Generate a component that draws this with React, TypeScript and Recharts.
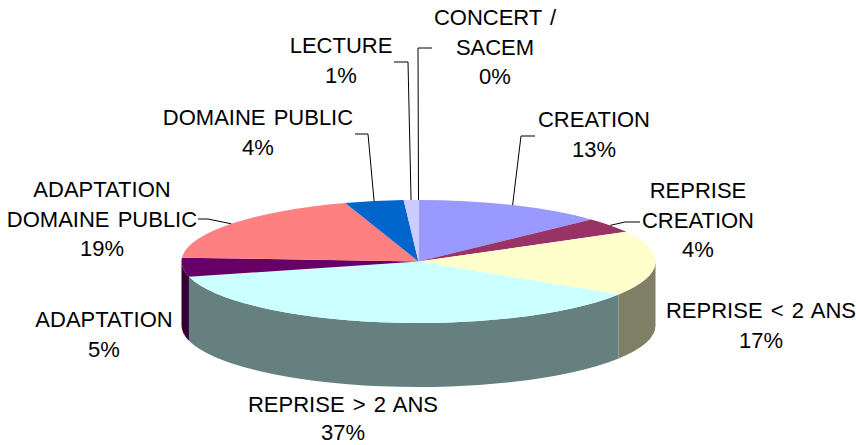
import React from 'react';
import { PieChart, Pie } from 'recharts';

const categories = ['CREATION', 'REPRISE CREATION', 'REPRISE < 2 ANS', 'REPRISE > 2 ANS', 'ADAPTATION', 'ADAPTATION DOMAINE PUBLIC', 'DOMAINE PUBLIC', 'LECTURE', 'CONCERT / SACEM'];
const shares = [13, 4, 17, 37, 5, 19, 4, 1, 0];
const topColors = ['#9999ff', '#993366', '#ffffcc', '#ccffff', '#660066', '#ff8080', '#0066cc', '#ccccff', '#000080'];
const wallColors = ['#4c4c80', '#4c1933', '#7f7f66', '#668080', '#330033', '#804040', '#003366', '#666680', '#000040'];

const chartData = categories.map((name, i) => ({ name, value: shares[i] }));

const CX = 418.5;
const CY = 261.5;
const RX = 237;
const RY = 61.5;
const DEPTH = 64;

// label layout: wrapped text, centre x, first baseline, line gap, leader elbow points
const labelLayout = [
    { lines: ['CREATION'], x: 594, y: 127, gap: 29.5, leader: [[521, 136], [535, 136]] },
    { lines: ['REPRISE', 'CREATION'], x: 698, y: 198, gap: 29.5, leader: [[625, 222], [640, 222]] },
    { lines: ['REPRISE < 2 ANS'], x: 761, y: 318, gap: 29.5, leader: [] },
    { lines: ['REPRISE > 2 ANS'], x: 343, y: 412, gap: 28, leader: [] },
    { lines: ['ADAPTATION'], x: 104, y: 327, gap: 29.5, leader: [] },
    { lines: ['ADAPTATION', 'DOMAINE PUBLIC'], x: 102, y: 197, gap: 29.5, leader: [[208, 219], [198, 219]] },
    { lines: ['DOMAINE PUBLIC'], x: 258, y: 125, gap: 29.5, leader: [[368, 134], [355, 134]] },
    { lines: ['LECTURE'], x: 341, y: 53, gap: 29.5, leader: [[408, 62], [394, 62]] },
    { lines: ['CONCERT /', 'SACEM'], x: 495, y: 25, gap: 29.5, leader: [[418, 48], [432, 48]] }
];

// point on the tilted rim for a recharts angle (degrees, counter clockwise from 3 o'clock)
const rim = (angle: number, drop = 0) => {
    const a = (angle * Math.PI) / 180;
    return [CX + RX * Math.cos(a), CY - RY * Math.sin(a) + drop];
};

const TopSlice = (props: any) => {
    const { startAngle, endAngle, fill } = props;
    if (Math.abs(startAngle - endAngle) < 0.01) return null;
    const [x0, y0] = rim(startAngle);
    const [x1, y1] = rim(endAngle);
    const large = Math.abs(startAngle - endAngle) > 180 ? 1 : 0;
    const d = `M${CX},${CY} L${x0},${y0} A${RX},${RY} 0 ${large} 1 ${x1},${y1} Z`;
    return <path d={d} fill={fill} stroke="none" />;
};

// only the part of a slice on the front half (0..-180 going clockwise) shows a wall
const WallSlice = (props: any) => {
    const { startAngle, endAngle, index } = props;
    const from = Math.min(startAngle, 0);
    const to = Math.max(endAngle, -180);
    if (from <= to) return null;
    const [x0, y0] = rim(from);
    const [x1, y1] = rim(to);
    const [x2, y2] = rim(to, DEPTH);
    const [x3, y3] = rim(from, DEPTH);
    const d = `M${x0},${y0} A${RX},${RY} 0 0 1 ${x1},${y1} L${x2},${y2} A${RX},${RY} 0 0 0 ${x3},${y3} Z`;
    return <path d={d} fill={wallColors[index]} stroke="none" />;
};

const SliceLabel = (props: any) => {
    const { index, midAngle, value } = props;
    const layout = labelLayout[index];
    const [sx, sy] = rim(midAngle);
    const leader = [[sx, sy], ...layout.leader].map((p) => p.join(',')).join(' ');
    return (
        <g>
            {layout.leader.length > 0 && <polyline points={leader} fill="none" stroke="#000000" strokeWidth={1} />}
            <text textAnchor="middle" fontFamily="Liberation Sans" fontSize={22} wordSpacing={2} fill="#000000">
                {[...layout.lines, `${value}%`].map((line, i) => (
                    <tspan key={i} x={layout.x} y={layout.y + i * layout.gap}>{line}</tspan>
                ))}
            </text>
        </g>
    );
};

export default function App() {
    return (
        <div style={{ position: 'absolute', left: 0, top: 0, width: 856, height: 445, background: '#ffffff' }}>
            <PieChart width={856} height={445} margin={{ top: 0, right: 0, bottom: 0, left: 0 }}>
                <Pie
                    data={chartData}
                    dataKey="value"
                    cx={CX}
                    cy={CY}
                    outerRadius={RX}
                    startAngle={90}
                    endAngle={-270}
                    shape={WallSlice}
                    label={false}
                    labelLine={false}
                    isAnimationActive={false}
                />
                <Pie
                    data={chartData.map((d, i) => ({ ...d, fill: topColors[i] }))}
                    dataKey="value"
                    cx={CX}
                    cy={CY}
                    outerRadius={RX}
                    startAngle={90}
                    endAngle={-270}
                    shape={TopSlice}
                    label={SliceLabel}
                    labelLine={false}
                    isAnimationActive={false}
                />
            </PieChart>
        </div>
    );
}
